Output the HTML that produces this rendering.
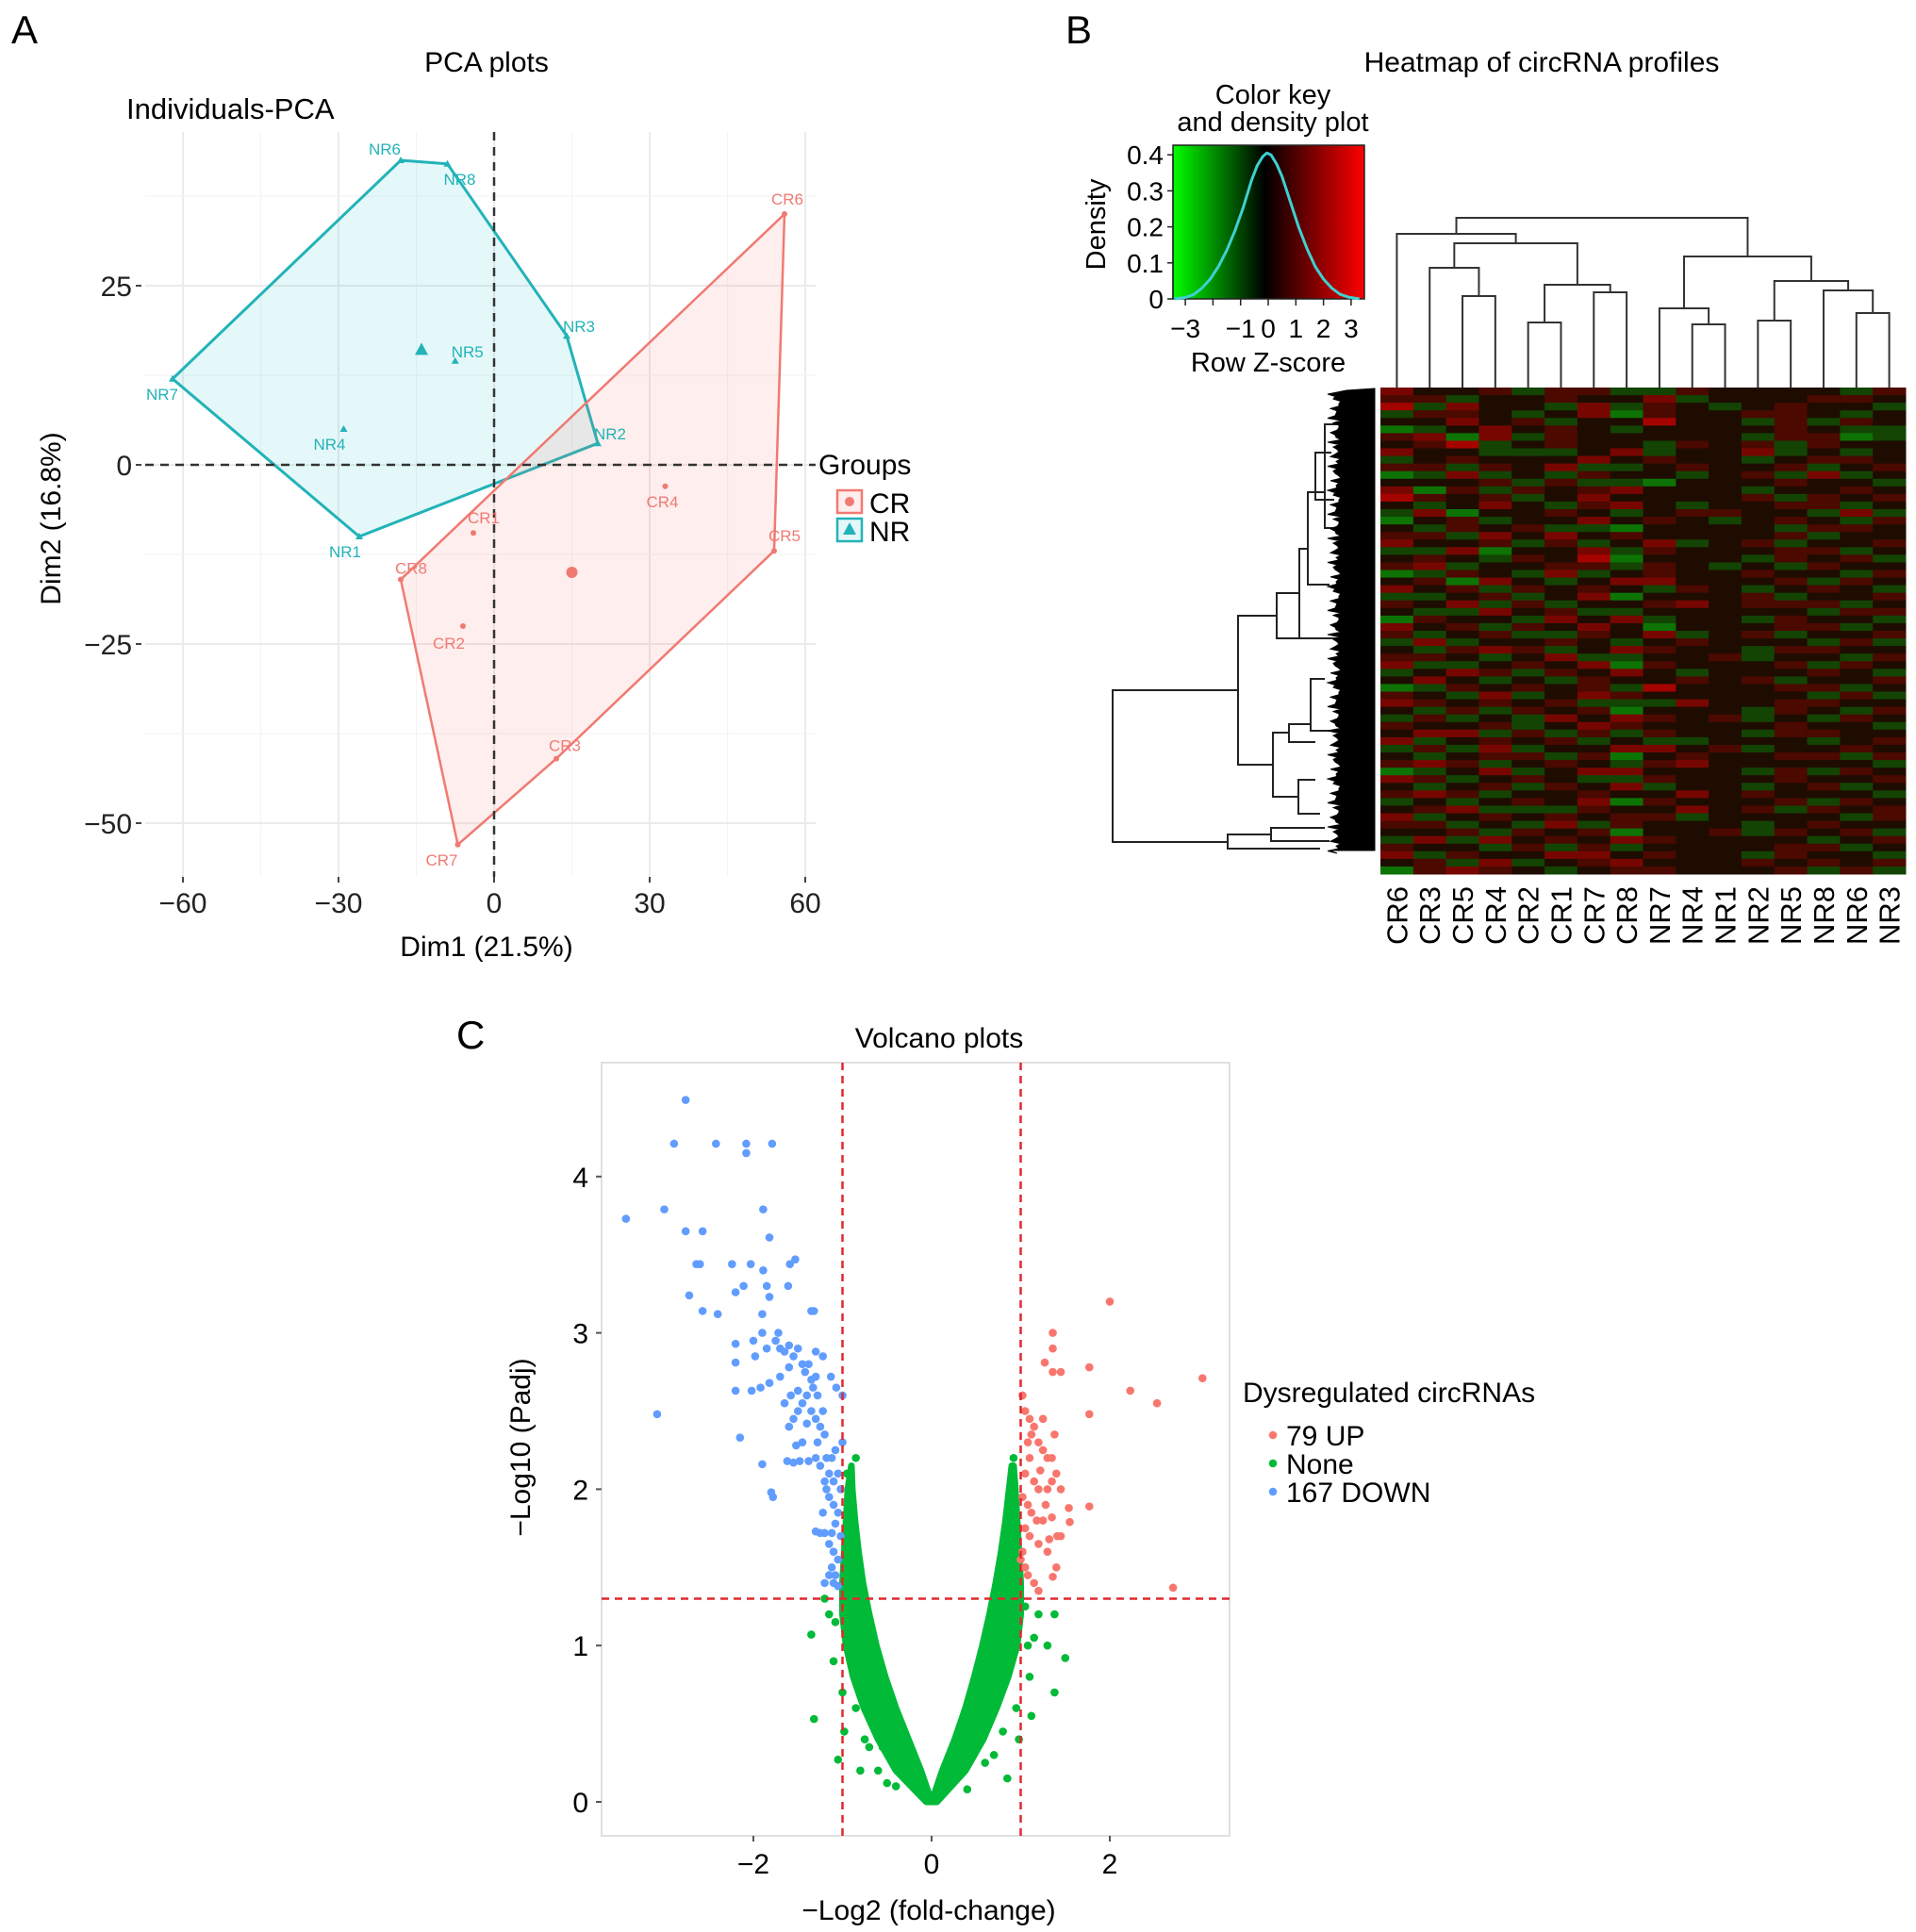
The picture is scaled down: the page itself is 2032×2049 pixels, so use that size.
<!DOCTYPE html>
<html><head><meta charset="utf-8"><style>
html,body{margin:0;padding:0;background:#fff;}
svg{display:block;font-family:"Liberation Sans",Arial,sans-serif;}
</style></head><body>
<svg id="fig" xmlns="http://www.w3.org/2000/svg" width="2032" height="2049" viewBox="0 0 2032 2049">
<rect x="0" y="0" width="2032" height="2049" fill="#fff"/>
<text x="12" y="46" font-size="42">A</text>
<text x="1130" y="46" font-size="42">B</text>
<text x="484" y="1112" font-size="42">C</text>
<text x="516" y="76" font-size="30" text-anchor="middle">PCA plots</text>
<text x="134" y="126" font-size="31">Individuals-PCA</text>
<text x="1635" y="76" font-size="30" text-anchor="middle">Heatmap of circRNA profiles</text>
<text x="1350" y="110" font-size="29" text-anchor="middle">Color key</text>
<text x="1350" y="139" font-size="29" text-anchor="middle">and density plot</text>
<text x="996" y="1111" font-size="30" text-anchor="middle">Volcano plots</text>
<g id="pca"></g>
<g id="heat"></g>
<g id="volc"></g>
</svg>
<script>
var NS="http://www.w3.org/2000/svg";
function mk(parent,tag,attrs,txt){var e=document.createElementNS(NS,tag);for(var k in attrs)e.setAttribute(k,attrs[k]);if(txt!==undefined)e.textContent=txt;parent.appendChild(e);return e;}

/* ================= PCA data ================= */
var nrNames=["NR1","NR2","NR3","NR4","NR5","NR6","NR7","NR8"];
var nrDim1=[-26,20,14,-29,-7.5,-18,-62,-9];
var nrDim2=[-10,3,18,5,14.5,42.5,12,42];
var crNames=["CR1","CR2","CR3","CR4","CR5","CR6","CR7","CR8"];
var crDim1=[-4,-6,12,33,54,56,-7,-18];
var crDim2=[-9.5,-22.5,-41,-3,-12,35,-53,-16];
var nrHull=["NR6","NR8","NR3","NR2","NR1","NR7"];
var crHull=["CR6","CR5","CR3","CR7","CR8"];
var nrCentroid=[-14,16];
var crCentroid=[15,-15];
var pcaXTicks=[-60,-30,0,30,60];
var pcaYTicks=[-50,-25,0,25];

/* ================= Heatmap data ================= */
var colLabels=["CR6","CR3","CR5","CR4","CR2","CR1","CR7","CR8","NR7","NR4","NR1","NR2","NR5","NR8","NR6","NR3"];
var heatRows=[
"6445355335444435","5534454463444554","7364436354345443","3554346254455434",
"4464534474435354","2346454344445433","5626354444435523","4573454435453544",
"6443334634463434","3454446454434554","5535463345445345","2363435443453634",
"4445353324445443","6253545644434454","7545346444453545","4346435643445534",
"3624454345544363","2453446454345435","4354533244443554","5536464544445344",
"6445353463453445","3362446354445534","4543547244435453","5634455354343544",
"2354363454454435","4526434664445354","6453545435434543","3345346244453445",
"5463534456455534","4336453344444355","2544364634435443","6453546424445534",
"5345335463453445","3634454345444353","4356534654435544","5543463344534435",
"6334546254445354","3465354643444543","4643435445453445","2354545374445534",
"5436346544444353","6545453336445544","4353545244435435","3534364654534354",
"5445346544445443","4663535354435544","6345453433444345","3536344664534454",
"4345535245445535","5653454356444443","2346346644435354","6534543354445445",
"4345354634434534","5653445446454443","3434546254445354","4563335446453545",
"6345454553444435","5534363544434544","4453545244535453","3636454654444345",
"5443535344445534","6354466454435443","4536345644454545","2565434554445353"
];

/* ================= Density data ================= */
var densZ=[-3.4,-3,-2.7,-2.4,-2.1,-1.8,-1.5,-1.2,-0.9,-0.6,-0.4,-0.2,-0.05,0.1,0.3,0.5,0.8,1.1,1.4,1.7,2.0,2.3,2.6,2.9,3.3];
var densV=[0.0,0.004,0.012,0.03,0.055,0.09,0.135,0.19,0.255,0.33,0.37,0.395,0.405,0.4,0.375,0.34,0.27,0.2,0.14,0.09,0.055,0.03,0.013,0.005,0.0];
var keyXTicks=[-3,-2,-1,0,1,2,3];
var keyXLabels=["\u22123","","\u22121","0","1","2","3"];
var keyYTicks=[0,0.1,0.2,0.3,0.4];

/* ================= Column dendrogram ================= */
var colMerges=[
[3,2,314],[1,100,284],[4,5,342],[6,7,310],[102,103,302],[101,104,258],[0,105,248],
[9,10,344],[8,107,327],[11,12,340],[14,15,332],[13,110,308],[109,111,298],[108,112,272],[106,113,231]
];

/* ================= Volcano data ================= */
var downX=[-3.43,-2.76,-2.89,-2.42,-2.08,-2.08,-1.79,-3.0,-1.89,-2.76,-2.57,-1.82,-2.64,-2.6,-2.24,-2.03,-1.89,-1.59,-1.53,-2.72,-2.2,-2.11,-1.85,-1.82,-1.61,-2.57,-2.4,-1.9,-1.32,-3.08,-2.2,-2.2,-2.2,
-1.75,-1.7,-1.65,-1.6,-1.55,-1.5,-1.45,-1.42,-1.38,-1.35,-1.33,-1.3,-1.28,-1.4,-1.45,-1.5,-1.55,-1.6,-1.65,-1.35,-1.3,-1.25,-1.2,-1.18,-1.12,-1.08,-1.05,-1.1,-1.15,-1.2,-1.25,-1.3,-1.38,-1.48,-1.55,-1.62,-1.9,-1.8,-1.78,-1.15,-1.1,-1.05,-1.08,-1.12,-1.2,-1.25,-1.3,-1.15,-1.1,-1.05,-1.12,-1.15,-1.1,-1.05,-1.2,-1.02,-1.02,-1.0,-1.0,-1.07,-1.13,-1.22,-1.3,-1.35,-1.5,-1.7,-1.82,-1.92,-2.02,-2.15,-1.98,-1.85,-1.9,-1.72,-2.0,-1.6,-1.45,-1.52,-1.4,-1.58,-1.22,-1.28,-1.18,-1.22,-1.08];
var downY=[3.73,4.49,4.21,4.21,4.21,4.15,4.21,3.79,3.79,3.65,3.65,3.61,3.44,3.44,3.44,3.44,3.4,3.44,3.47,3.24,3.26,3.3,3.3,3.23,3.3,3.14,3.12,3.12,3.14,2.48,2.93,2.81,2.63,
2.95,2.9,2.88,2.92,2.85,2.9,2.8,2.75,2.8,2.7,2.65,2.72,2.6,2.6,2.55,2.5,2.45,2.4,2.55,2.5,2.45,2.4,2.35,2.2,2.2,2.25,2.1,2.05,2.1,2.05,2.15,2.2,2.18,2.18,2.17,2.18,2.16,1.98,1.95,1.95,1.9,1.85,1.78,1.72,1.72,1.72,1.73,1.65,1.6,1.55,1.5,1.45,1.4,1.38,1.4,1.7,2.0,2.3,2.6,2.65,2.72,2.85,2.88,3.14,2.63,2.72,2.68,2.65,2.63,2.33,2.85,2.9,3.0,3.0,2.95,2.78,2.3,2.28,2.42,2.6,2.5,2.3,2.0,1.85,1.45];
var upX=[2.0,1.36,1.36,1.27,1.36,1.45,1.77,3.04,2.23,2.53,1.77,2.71,1.36,1.54,1.77,1.55,1.41,1.32,
1.02,1.05,1.1,1.15,1.2,1.25,1.3,1.35,1.4,1.1,1.05,1.15,1.2,1.3,1.35,1.45,1.02,1.08,1.12,1.18,1.25,1.35,1.05,1.1,1.2,1.3,1.02,1.05,1.08,1.15,1.2,1.0,1.12,1.25,1.38,1.45,1.4,1.22,1.08,1.28];
var upY=[3.2,3.0,2.9,2.81,2.75,2.75,2.78,2.71,2.63,2.55,2.48,1.37,1.44,1.88,1.89,1.79,1.7,1.68,
2.6,2.5,2.45,2.4,2.3,2.25,2.2,2.2,2.1,2.2,2.1,2.05,2.0,2.0,2.05,2.0,1.95,1.9,1.85,1.8,1.8,1.82,1.75,1.7,1.65,1.6,1.6,1.5,1.45,1.4,1.35,1.55,2.35,2.45,2.35,1.7,1.5,2.12,2.3,1.9];
var noneX=[-1.35,-1.32,-1.05,-0.9,-0.75,-0.6,-0.4,-1.15,-1.0,-0.85,0.85,0.95,1.1,1.2,1.38,1.5,1.38,1.15,1.3,0.92,-0.85,-0.95,1.05,-1.2,0.7,-0.8,-0.7,0.6,0.8,-0.5,0.4,-1.1,-1.08,1.08,1.12,-0.98,0.98,-0.65,0.65,-0.55];
var noneY=[1.07,0.53,0.27,0.95,0.4,0.2,0.1,1.2,0.7,0.6,0.15,0.6,0.8,1.2,1.2,0.92,0.7,1.05,1.0,2.2,2.2,2.1,1.25,1.3,0.3,0.2,0.35,0.25,0.45,0.12,0.08,0.9,1.15,1.0,0.55,0.45,0.4,0.55,0.7,0.35];
var envY=[0,0.2,0.4,0.6,0.8,1.0,1.2,1.4,1.6,1.8,2.0,2.15];
var envLeftOuter=[-0.06,-0.4,-0.6,-0.76,-0.88,-0.96,-1.0,-1.0,-0.98,-0.96,-0.94,-0.9];
var envLeftInner=[0.0,-0.12,-0.26,-0.4,-0.52,-0.62,-0.7,-0.77,-0.82,-0.86,-0.89,-0.9];
var envRightInner=[0.0,0.12,0.26,0.38,0.48,0.57,0.65,0.72,0.78,0.83,0.87,0.9];
var envRightOuter=[0.06,0.38,0.58,0.73,0.86,0.96,1.0,1.0,0.98,0.96,0.94,0.92];
var volcXTicks=[-2,0,2];
var volcYTicks=[0,1,2,3,4];
var fcCut=[-1,1];
var padjCut=[1.3];

/* ================= PCA drawing ================= */
(function(){
var g=document.getElementById('pca');
function X(v){return 524+5.5*v;}
function Y(v){return 493-7.6*v;}
var L=154,R=865,T=140,B=930;
var grid=mk(g,'g',{});


for(var v=-60;v<=60;v+=15){mk(grid,'line',{x1:X(v),x2:X(v),y1:T,y2:B,stroke:(v%30===0)?'#ebebeb':'#f4f4f4','stroke-width':(v%30===0)?2:1.2});}
for(var w=-50;w<=37.5;w+=12.5){mk(grid,'line',{x1:L,x2:R,y1:Y(w),y2:Y(w),stroke:(w%25===0)?'#ebebeb':'#f4f4f4','stroke-width':(w%25===0)?2:1.2});}
function idx(names,n){return names.indexOf(n);}
function hullPts(h,names,xs,ys){return h.map(function(n){var i=idx(names,n);return X(xs[i])+','+Y(ys[i]);}).join(' ');}
var nrPoly=mk(g,'polygon',{points:hullPts(nrHull,nrNames,nrDim1,nrDim2),fill:'rgba(0,191,196,0.1)',stroke:'#22b3b8','stroke-width':3});


var crPoly=mk(g,'polygon',{points:hullPts(crHull,crNames,crDim1,crDim2),fill:'rgba(248,118,109,0.12)',stroke:'#f07a72','stroke-width':2.5});


var d1=mk(g,'line',{x1:X(0),x2:X(0),y1:T,y2:B,stroke:'#333','stroke-width':2.5,'stroke-dasharray':'9,7'});


var d2=mk(g,'line',{x1:L,x2:R,y1:Y(0),y2:Y(0),stroke:'#333','stroke-width':2.5,'stroke-dasharray':'9,7'});


for(var i=0;i<nrNames.length;i++){
  var px=X(nrDim1[i]),py=Y(nrDim2[i]);
  var m=mk(g,'polygon',{points:(px)+','+(py-4)+' '+(px-4)+','+(py+3)+' '+(px+4)+','+(py+3),fill:'#22b3b8'});
  
  
  var t=mk(g,'text',{x:px-4,y:(nrDim2[i]>30?py-6:py+(nrNames[i]==='NR3'||nrNames[i]==='NR5'||nrNames[i]==='NR2'?-4:22)),'font-size':17,fill:'#22b3b8','text-anchor':'start'},nrNames[i]);
  if(nrNames[i]==='NR7'){t.setAttribute('x',px-28);}
  if(nrNames[i]==='NR4'||nrNames[i]==='NR1'){t.setAttribute('x',px-32);}
  if(nrNames[i]==='NR6'){t.setAttribute('x',px-34);}
  if(nrNames[i]==='NR8'){t.setAttribute('y',py+22);}
  
  
}
for(var j=0;j<crNames.length;j++){
  var qx=X(crDim1[j]),qy=Y(crDim2[j]);
  var c=mk(g,'circle',{cx:qx,cy:qy,r:3,fill:'#f07a72'});
  
  
  var off={CR1:[-6,-10],CR2:[-32,24],CR3:[-8,-8],CR4:[-20,22],CR5:[-6,-10],CR6:[-14,-10],CR7:[-34,22],CR8:[-6,-6]}[crNames[j]];
  var tt=mk(g,'text',{x:qx+off[0],y:qy+off[1],'font-size':17,fill:'#f07a72'},crNames[j]);
  
  
}
var nc=mk(g,'polygon',{points:X(nrCentroid[0])+','+(Y(nrCentroid[1])-8)+' '+(X(nrCentroid[0])-7)+','+(Y(nrCentroid[1])+5)+' '+(X(nrCentroid[0])+7)+','+(Y(nrCentroid[1])+5),fill:'#22b3b8'});


var cc=mk(g,'circle',{cx:X(crCentroid[0]),cy:Y(crCentroid[1]),r:6,fill:'#f07a72'});


for(var a=0;a<pcaXTicks.length;a++){
  var tl=mk(g,'text',{x:X(pcaXTicks[a]),y:968,'font-size':30,'text-anchor':'middle',fill:'#222'},pcaXTicks[a]<0?'\u2212'+(-pcaXTicks[a]):String(pcaXTicks[a]));
  
  
  mk(g,'line',{x1:X(pcaXTicks[a]),x2:X(pcaXTicks[a]),y1:930,y2:936,stroke:'#444','stroke-width':2});
}
for(var b=0;b<pcaYTicks.length;b++){
  var yl=mk(g,'text',{x:140,y:Y(pcaYTicks[b])+11,'font-size':30,'text-anchor':'end',fill:'#222'},pcaYTicks[b]<0?'\u2212'+(-pcaYTicks[b]):String(pcaYTicks[b]));
  
  
  mk(g,'line',{x1:144,x2:150,y1:Y(pcaYTicks[b]),y2:Y(pcaYTicks[b]),stroke:'#444','stroke-width':2});
}
var xt=mk(g,'text',{x:516,y:1014,'font-size':30,'text-anchor':'middle'},'Dim1 (21.5%)');


var yt=mk(g,'text',{x:0,y:0,'font-size':30,'text-anchor':'middle',transform:'translate(64,550) rotate(-90)'},'Dim2 (16.8%)');


var lg=mk(g,'g',{});


mk(lg,'text',{x:868,y:503,'font-size':30},'Groups');
var e1=mk(lg,'rect',{x:888,y:520,width:26,height:24,fill:'rgba(248,118,109,0.12)',stroke:'#f07a72','stroke-width':2.5});


mk(lg,'circle',{cx:901,cy:532,r:5,fill:'#f07a72'});
mk(lg,'text',{x:922,y:544,'font-size':30},'CR');
var e2=mk(lg,'rect',{x:888,y:550,width:26,height:24,fill:'rgba(0,191,196,0.1)',stroke:'#22b3b8','stroke-width':2.5});


mk(lg,'polygon',{points:'901,554 894,567 908,567',fill:'#22b3b8'});
mk(lg,'text',{x:922,y:574,'font-size':30},'NR');
})();

/* ================= Heatmap drawing ================= */
(function(){
var g=document.getElementById('heat');
var defs=mk(g,'defs',{});
var lgd=mk(defs,'linearGradient',{id:'kg',x1:0,x2:1,y1:0,y2:0});
mk(lgd,'stop',{offset:'0','stop-color':'#00ff00'});
mk(lgd,'stop',{offset:'0.48','stop-color':'#000'});
mk(lgd,'stop',{offset:'1','stop-color':'#ff0000'});
function KX(z){return 1345+29.3*z;}
function KY(d){return 317-382*d;}
var kb=mk(g,'rect',{x:1244,y:154,width:203,height:163,fill:'url(#kg)',stroke:'#222','stroke-width':1.5});


var pts=[];for(var i=0;i<densZ.length;i++){pts.push(KX(densZ[i])+','+KY(densV[i]));}
var dl=mk(g,'polyline',{points:pts.join(' '),fill:'none',stroke:'#3fd0d0','stroke-width':3,'stroke-linejoin':'round'});


mk(g,'line',{x1:1244,x2:1244,y1:KY(0),y2:KY(0.4),stroke:'#222','stroke-width':1.5});
for(var k=0;k<keyYTicks.length;k++){
  mk(g,'line',{x1:1238,x2:1244,y1:KY(keyYTicks[k]),y2:KY(keyYTicks[k]),stroke:'#222','stroke-width':1.5});
  var ky=mk(g,'text',{x:1234,y:KY(keyYTicks[k])+10,'font-size':28,'text-anchor':'end'},String(keyYTicks[k]));
  
  
}
for(var q=0;q<keyXTicks.length;q++){
  mk(g,'line',{x1:KX(keyXTicks[q]),x2:KX(keyXTicks[q]),y1:317,y2:324,stroke:'#222','stroke-width':1.5});
  if(keyXLabels[q]!==''){var kx=mk(g,'text',{x:KX(keyXTicks[q]),y:358,'font-size':28,'text-anchor':'middle'},keyXLabels[q]);
  
  }
}
var rz=mk(g,'text',{x:1345,y:394,'font-size':29,'text-anchor':'middle'},'Row Z-score');


var dn=mk(g,'text',{x:0,y:0,'font-size':29,'text-anchor':'middle',transform:'translate(1172,238) rotate(-90)'},'Density');



var HL=1464,HR=2021,HT=411,HB=927;
var cw=(HR-HL)/colLabels.length, rh=(HB-HT)/heatRows.length;
function col(v){var t=Math.min(1,Math.abs(v)/4);
  if(v<0)return 'rgb('+Math.round(25*(1-t))+','+Math.round(20+190*t)+','+Math.round(10*t)+')';
  return 'rgb('+Math.round(30+180*t)+','+Math.round(12*(1-t))+',0)';}
var cells=mk(g,'g',{});


for(var r=0;r<heatRows.length;r++){for(var c=0;c<colLabels.length;c++){
  var v=parseInt(heatRows[r].charAt(c),10)-4;
  var cell=mk(cells,'rect',{x:(HL+c*cw).toFixed(2),y:(HT+r*rh).toFixed(2),width:(cw+0.5).toFixed(2),height:(rh+0.5).toFixed(2),fill:col(v)});
  
  
}}
for(var c2=0;c2<colLabels.length;c2++){
  var cx=HL+(c2+0.5)*cw;
  var lab=mk(g,'text',{x:0,y:0,'font-size':31,'text-anchor':'end',transform:'translate('+(cx+11)+',940) rotate(-90)'},colLabels[c2]);
  
  
}
var dg=mk(g,'g',{stroke:'#333','stroke-width':2,fill:'none'});


var LEAFY=411;
function nodePos(id){if(id<100)return [HL+(id+0.5)*cw,LEAFY];var m=colMerges[id-100];var a=nodePos(m[0]),b=nodePos(m[1]);return [(a[0]+b[0])/2,m[2]];}
for(var mI=0;mI<colMerges.length;mI++){
  var m=colMerges[mI],a=nodePos(m[0]),b=nodePos(m[1]),h=m[2];
  mk(dg,'path',{d:'M'+a[0]+','+a[1]+'V'+h+'H'+b[0]+'V'+b[1]});
}
var rowNodes=[[1180,732,893,1313,1302],[1313,653,811,1354,1350],[1302,885,900,1348,1400],[1354,629,677,1378,1420],
[1378,582,677,1387,1410],[1387,522,620,1405,1410],[1405,450,560,1418,1418],[1350,777,845,1367,1377],[1367,768,787,1390,1395],
[1377,827,863,1395,1400],[1348,878,892,1405,1410],[1390,720,775,1405,1410],[1395,480,530,1412,1415]];
var rg=mk(g,'g',{stroke:'#222','stroke-width':2,fill:'none'});


for(var n=0;n<rowNodes.length;n++){var R=rowNodes[n];
  mk(rg,'path',{d:'M'+R[3]+','+R[1]+'H'+R[0]+'V'+R[2]+'H'+R[4]});}
var dense='M1458,412 L1428,414 ';
for(var s=0;s<96;s++){var yy=418+s*5.1;dense+='L'+(1408+((s*7)%5)*3)+','+yy+' L'+(1416+((s*3)%4)*2)+','+(yy+2.5)+' ';}
dense+='L1410,902 L1458,902 Z';
var dp=mk(g,'path',{d:dense,fill:'#000',stroke:'#000','stroke-width':1});


})();

/* ================= Volcano drawing ================= */
(function(){
var g=document.getElementById('volc');
function X(v){return 988+94.5*v;}
function Y(v){return 1911-165.8*v;}
var L=638,R=1304,T=1127,B=1947;
var fr=mk(g,'rect',{x:L,y:T,width:R-L,height:B-T,fill:'#fff',stroke:'#e0e0e0','stroke-width':2});


function band(outer,inner){var p=[];for(var i=0;i<envY.length;i++)p.push(X(outer[i])+','+Y(envY[i]));for(var j=envY.length-1;j>=0;j--)p.push(X(inner[j])+','+Y(envY[j]));return p.join(' ');}
var lb=mk(g,'polygon',{points:band(envLeftOuter,envLeftInner),fill:'#00ba38',stroke:'#00ba38','stroke-width':7,'stroke-linejoin':'round'});


var rb=mk(g,'polygon',{points:band(envRightOuter,envRightInner),fill:'#00ba38',stroke:'#00ba38','stroke-width':7,'stroke-linejoin':'round'});


function dots(xs,ys,color,name){for(var i=0;i<xs.length;i++){var c=mk(g,'circle',{cx:X(xs[i]),cy:Y(ys[i]),r:4.3,fill:color});
  
  }}
dots(noneX,noneY,'#00ba38','none-point');
dots(downX,downY,'#619cff','down-point');
dots(upX,upY,'#f8766d','up-point');
for(var f=0;f<fcCut.length;f++){var vl=mk(g,'line',{x1:X(fcCut[f]),x2:X(fcCut[f]),y1:T,y2:B,stroke:'#e0282e','stroke-width':2.5,'stroke-dasharray':'8,6'});
  
  }
var hl=mk(g,'line',{x1:L,x2:R,y1:Y(padjCut[0]),y2:Y(padjCut[0]),stroke:'#e0282e','stroke-width':2.5,'stroke-dasharray':'8,6'});


for(var a=0;a<volcXTicks.length;a++){
  mk(g,'line',{x1:X(volcXTicks[a]),x2:X(volcXTicks[a]),y1:B,y2:B+6,stroke:'#555','stroke-width':2});
  var t=mk(g,'text',{x:X(volcXTicks[a]),y:1987,'font-size':30,'text-anchor':'middle'},volcXTicks[a]<0?'\u2212'+(-volcXTicks[a]):String(volcXTicks[a]));
  
  
}
for(var b=0;b<volcYTicks.length;b++){
  mk(g,'line',{x1:L-6,x2:L,y1:Y(volcYTicks[b]),y2:Y(volcYTicks[b]),stroke:'#555','stroke-width':2});
  var u=mk(g,'text',{x:L-14,y:Y(volcYTicks[b])+11,'font-size':30,'text-anchor':'end'},String(volcYTicks[b]));
  
  
}
var xt=mk(g,'text',{x:985,y:2036,'font-size':30,'text-anchor':'middle'},'\u2212Log2 (fold-change)');


var yt=mk(g,'text',{x:0,y:0,'font-size':30,'text-anchor':'middle',transform:'translate(562,1535) rotate(-90)'},'\u2212Log10 (Padj)');


var lg=mk(g,'g',{});


mk(lg,'text',{x:1318,y:1487,'font-size':30},'Dysregulated circRNAs');
var labs=['79 UP','None','167 DOWN'],cols=['#f8766d','#00ba38','#619cff'];
for(var i=0;i<3;i++){var ey=1522+i*30;
  var d=mk(lg,'circle',{cx:1350,cy:ey,r:4.3,fill:cols[i]});
  
  
  mk(lg,'text',{x:1364,y:ey+11,'font-size':30},labs[i]);}
})();
</script>
</body></html>
